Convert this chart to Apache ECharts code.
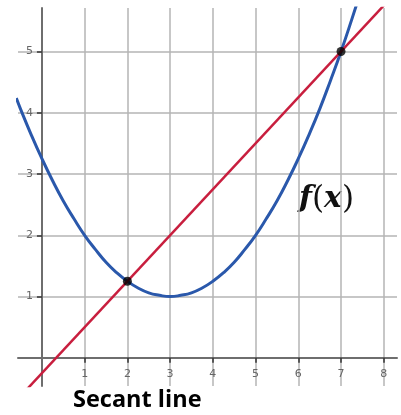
<!DOCTYPE html>
<html>
<head>
<meta charset="utf-8">
<script src="https://cdn.jsdelivr.net/npm/echarts@6/dist/echarts.min.js"></script>
<style>
  html, body { margin: 0; padding: 0; background: #fff; }
  #main { width: 401px; height: 415px; }
</style>
</head>
<body>
<div id="main"></div>
<script>
// f(x)
var curveX = [-0.6, -0.5, -0.25, 0, 0.25, 0.5, 0.75, 1, 1.25, 1.5, 1.75, 2, 2.25, 2.5, 2.75, 3,
  3.25, 3.5, 3.75, 4, 4.25, 4.5, 4.75, 5, 5.25, 5.5, 5.75, 6, 6.25, 6.5, 6.75, 7, 7.25, 7.5];
var curveY = [4.24, 4.06, 3.64, 3.25, 2.89, 2.56, 2.27, 2.0, 1.77, 1.56, 1.39, 1.25, 1.14, 1.06, 1.02, 1.0,
  1.02, 1.06, 1.14, 1.25, 1.39, 1.56, 1.77, 2.0, 2.27, 2.56, 2.89, 3.25, 3.64, 4.06, 4.52, 5.0, 5.52, 6.06];
// secant line through the two marked points
var secantX = [-0.6, 8.4];
var secantY = [-0.7, 6.05];
var pointX = [2, 7];
var pointY = [1.25, 5];
// ticks / labels
var xTicks = [1, 2, 3, 4, 5, 6, 7, 8];
var yTicks = [1, 2, 3, 4, 5];

var chart = echarts.init(document.getElementById('main'));

function zip(a, b) {
  return a.map(function (v, i) { return [v, b[i]]; });
}

var option = {
  backgroundColor: '#fff',
  animation: false,
  grid: { left: 18, right: 4, top: 8, bottom: 29 },
  xAxis: {
    type: 'value',
    min: -0.56,
    max: 8.31,
    axisLine: { onZero: true, lineStyle: { color: '#6e6e6e', width: 2 } },
    axisTick: { show: true, customValues: xTicks, length: 5, lineStyle: { color: '#333', width: 1.5 } },
    axisLabel: { customValues: xTicks, margin: -17, color: '#666', fontSize: 11, fontFamily: 'DejaVu Sans' },
    splitLine: { show: true, lineStyle: { color: '#b4b4b4', width: 1.5 } }
  },
  yAxis: {
    type: 'value',
    min: -0.46,
    max: 5.71,
    axisLine: { onZero: true, lineStyle: { color: '#6e6e6e', width: 2 } },
    axisTick: { show: true, customValues: yTicks, length: 5, lineStyle: { color: '#333', width: 1.5 } },
    axisLabel: { customValues: yTicks, margin: -15, color: '#666', fontSize: 11, fontFamily: 'DejaVu Sans' },
    splitLine: { show: true, lineStyle: { color: '#b4b4b4', width: 1.5 } }
  },
  series: [
    {
      type: 'line',
      data: zip(curveX, curveY),
      smooth: true,
      showSymbol: false,
      clip: true,
      lineStyle: { color: '#2a58ab', width: 3 }
    },
    {
      type: 'line',
      data: zip(secantX, secantY),
      showSymbol: false,
      clip: true,
      lineStyle: { color: '#c81e3e', width: 2.5 }
    },
    {
      type: 'scatter',
      data: zip(pointX, pointY),
      symbolSize: 9,
      itemStyle: { color: '#000' },
      z: 5
    }
  ],
  graphic: [
    {
      type: 'text',
      left: 299,
      top: 184,
      style: {
        text: '{i|f}{p|(}{i|x}{p|)}',
        rich: {
          i: { font: 'italic bold 30px "DejaVu Serif"', fill: '#111' },
          p: { font: '31px "DejaVu Serif"', fill: '#111' }
        }
      }
    },
    {
      type: 'text',
      left: 73,
      top: 388,
      style: {
        text: 'Secant line',
        font: 'bold 23.5px "Open Sans"',
        fill: '#000'
      }
    }
  ]
};

chart.setOption(option);
</script>
</body>
</html>
